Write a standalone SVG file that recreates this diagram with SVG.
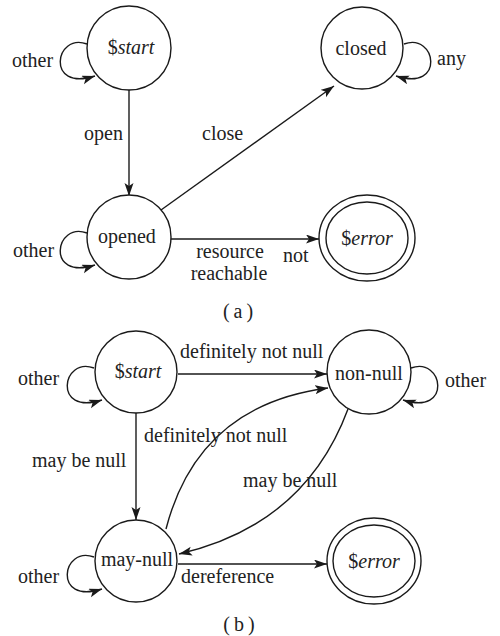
<svg xmlns="http://www.w3.org/2000/svg" width="500" height="636" viewBox="0 0 500 636" font-family="'Liberation Serif', 'DejaVu Serif', serif" font-size="20">
<defs>
<marker id="ah" markerWidth="14" markerHeight="10" refX="13" refY="4.5" orient="auto" markerUnits="userSpaceOnUse">
<path d="M0,0 L13,4.5 L0,9 L3,4.5 z" fill="#1a1a1a"/>
</marker>
<style>
.n{fill:#fff;stroke:#1a1a1a;stroke-width:1.4}
.e{fill:none;stroke:#1a1a1a;stroke-width:1.4;marker-end:url(#ah)}
.t{font-family:'Liberation Serif','DejaVu Serif',serif;font-size:20px;fill:#222}
.c{text-anchor:middle}
.i{font-style:italic}
</style>
</defs>
<rect width="500" height="636" fill="#fff"/>

<g id="connectors">
<path class="e" d="M129,90 L129,196"/>
<path class="e" d="M161,210 L334,86"/>
<path class="e" d="M171,239 L319,239"/>
<path class="e" d="M87,44 C55,32 45,92 95,76"/>
<path class="e" d="M87,233 C55,221 45,281 95,265"/>
<path class="e" d="M404,44 C436,32 446,92 396,76"/>
<path class="e" d="M178,374 L327,374"/>
<path class="e" d="M136,413 L136,520"/>
<path class="e" d="M166,529 Q198,405 328,388"/>
<path class="e" d="M348,409 Q305,525 179,554"/>
<path class="e" d="M178,564 L327,564"/>
<path class="e" d="M94,368 C62,356 52,416 102,400"/>
<path class="e" d="M411,368 C443,356 453,416 403,400"/>
<path class="e" d="M94,557 C62,545 52,605 102,589"/>
</g>

<g id="a-start"><circle class="n" cx="129" cy="48" r="42"/><text class="t c" x="131" y="54"><tspan>$</tspan><tspan class="i">start</tspan></text></g>
<g id="a-closed"><circle class="n" cx="362" cy="48" r="41"/><text class="t c" x="361" y="55">closed</text></g>
<g id="a-opened"><circle class="n" cx="129" cy="237" r="42"/><text class="t c" x="127" y="243">opened</text></g>
<g id="a-error"><ellipse class="n" cx="367" cy="238" rx="48" ry="43"/><ellipse class="n" cx="367" cy="238" rx="41" ry="36"/><text class="t c" x="367" y="245"><tspan>$</tspan><tspan class="i">error</tspan></text></g>

<g id="b-start"><circle class="n" cx="136" cy="372" r="41"/><text class="t c" x="138" y="378"><tspan>$</tspan><tspan class="i">start</tspan></text></g>
<g id="b-nonnull"><circle class="n" cx="369" cy="372" r="42"/><text class="t c" x="369" y="380">non-null</text></g>
<g id="b-maynull"><circle class="n" cx="136" cy="561" r="41"/><text class="t c" x="137" y="566">may-null</text></g>
<g id="b-error"><ellipse class="n" cx="374" cy="561" rx="47" ry="43"/><ellipse class="n" cx="374" cy="561" rx="41" ry="36"/><text class="t c" x="374" y="568"><tspan>$</tspan><tspan class="i">error</tspan></text></g>

<g id="labels">
<text class="t" x="12" y="67">other</text>
<text class="t" x="84" y="140">open</text>
<text class="t" x="202" y="140">close</text>
<text class="t" x="437" y="65">any</text>
<text class="t" x="13" y="257">other</text>
<text class="t c" x="230" y="258">resource</text>
<text class="t c" x="229" y="280">reachable</text>
<text class="t" x="283" y="262">not</text>
<text class="t c" x="240" y="318" letter-spacing="4">(a)</text>
<text class="t" x="180" y="358">definitely not null</text>
<text class="t" x="144" y="442">definitely not null</text>
<text class="t" x="18" y="385">other</text>
<text class="t" x="32" y="467">may be null</text>
<text class="t" x="445" y="387">other</text>
<text class="t" x="243" y="487">may be null</text>
<text class="t" x="18" y="583">other</text>
<text class="t" x="181" y="583">dereference</text>
<text class="t c" x="241" y="631" letter-spacing="4">(b)</text>
</g>
</svg>
